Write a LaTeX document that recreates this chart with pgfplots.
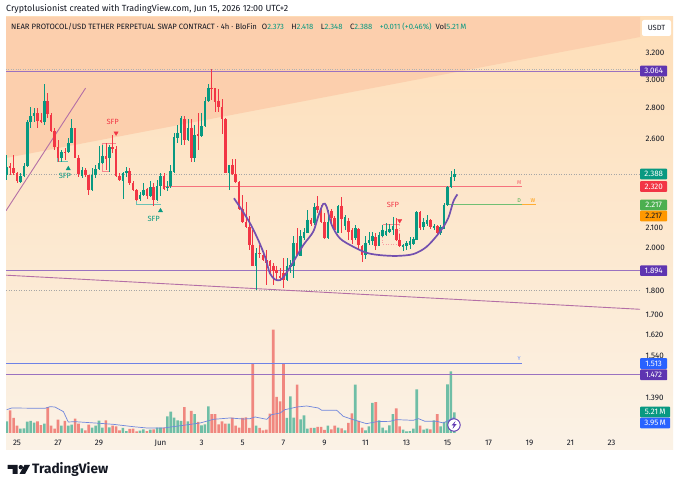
\documentclass[border=0pt]{standalone}
\usepackage{pgfplots}
\usepackage{pgfplotstable}
\usepackage{fontspec}
\setmainfont{Fira Sans}
\pgfplotsset{compat=1.18}
\definecolor{tvgreen}{HTML}{089981}
\definecolor{tvred}{HTML}{F23645}
\definecolor{volgreen}{HTML}{6FBEA6}
\definecolor{volred}{HTML}{F0877F}
\definecolor{wedge}{HTML}{FCCFAD}
\definecolor{lvl}{HTML}{9A72C0}
\definecolor{ink}{HTML}{131722}
\definecolor{curve}{HTML}{7350AF}
\definecolor{trend}{HTML}{B46FA6}
\definecolor{maline}{HTML}{6F86DC}
\definecolor{yline}{HTML}{6E82E6}
\definecolor{bdgpurple}{HTML}{5E35B1}
\definecolor{bdgblue}{HTML}{2962FF}
\definecolor{bdgorange}{HTML}{FF9800}
\definecolor{bdggreen}{HTML}{4CAF50}
\definecolor{bgtop}{HTML}{FEDEB8}
\definecolor{bgbot}{HTML}{FBF2E6}
\pgfplotstableread{
k h t b l
-3 2.502 2.432 2.384 2.355
1 2.393 2.378 2.342 2.340
2 2.452 2.436 2.378 2.374
3 2.722 2.711 2.436 2.432
4 2.811 2.748 2.711 2.668
5 2.800 2.766 2.751 2.711
8 2.970 2.848 2.711 2.689
13 2.532 2.518 2.485 2.461
15 2.605 2.573 2.518 2.516
16 2.726 2.668 2.573 2.573
19 2.428 2.413 2.378 2.364
22 2.423 2.384 2.296 2.290
23 2.442 2.417 2.384 2.364
24 2.553 2.455 2.417 2.413
25 2.563 2.496 2.452 2.448
27 2.563 2.549 2.481 2.403
31 2.403 2.393 2.351 2.248
32 2.428 2.407 2.393 2.374
36 2.285 2.272 2.248 2.236
37 2.336 2.299 2.272 2.263
39 2.346 2.314 2.266 2.259
41 2.355 2.318 2.241 2.236
42 2.393 2.378 2.318 2.266
44 2.346 2.314 2.308 2.290
45 2.442 2.407 2.318 2.308
46 2.640 2.611 2.403 2.397
47 2.689 2.640 2.605 2.573
48 2.748 2.733 2.636 2.563
50 2.726 2.672 2.594 2.584
52 2.689 2.626 2.481 2.461
54 2.766 2.682 2.620 2.615
55 2.880 2.853 2.682 2.678
56 2.970 2.943 2.853 2.846
62 2.442 2.442 2.393 2.296
70 1.998 1.974 1.915 1.807
79 1.950 1.912 1.851 1.844
80 1.942 1.919 1.909 1.881
81 2.055 2.022 1.915 1.859
83 2.088 2.055 1.961 1.958
84 2.097 2.075 2.047 2.039
85 2.191 2.140 2.072 2.069
87 2.227 2.205 2.122 2.114
91 2.191 2.126 2.047 2.042
94 2.218 2.213 2.072 2.072
96 2.165 2.151 2.108 2.088
99 2.114 2.097 2.047 2.039
102 2.058 2.022 1.966 1.945
103 2.075 2.039 2.022 2.014
104 2.075 2.058 2.030 2.014
106 2.075 2.063 2.009 2.006
107 2.114 2.088 2.058 2.052
108 2.122 2.080 2.063 2.055
109 2.119 2.094 2.075 2.072
110 2.151 2.105 2.088 2.063
113 2.019 2.013 2.003 1.982
114 2.030 2.022 2.006 1.990
115 2.052 2.030 2.014 1.993
116 2.052 2.042 2.019 2.014
117 2.182 2.177 2.039 2.035
119 2.148 2.126 2.102 2.088
120 2.165 2.136 2.119 2.108
122 2.119 2.108 2.095 2.085
124 2.114 2.102 2.069 2.063
125 2.227 2.218 2.094 2.090
126 2.318 2.314 2.218 2.213
127 2.408 2.374 2.314 2.308
128 2.418 2.388 2.373 2.348
}\upcandles
\pgfplotstableread{
k h t b l
-2 2.452 2.436 2.423 2.384
-1 2.502 2.423 2.393 2.384
0 2.403 2.393 2.346 2.340
6 2.800 2.766 2.715 2.668
7 2.766 2.722 2.711 2.700
9 2.908 2.848 2.762 2.733
10 2.766 2.755 2.651 2.647
11 2.668 2.651 2.549 2.532
12 2.594 2.549 2.485 2.461
14 2.543 2.518 2.512 2.471
17 2.668 2.668 2.485 2.481
18 2.502 2.485 2.388 2.374
20 2.423 2.413 2.382 2.374
21 2.384 2.384 2.299 2.272
26 2.573 2.496 2.479 2.413
28 2.626 2.549 2.537 2.512
29 2.553 2.537 2.378 2.370
30 2.393 2.378 2.355 2.346
33 2.423 2.407 2.340 2.327
34 2.351 2.340 2.299 2.290
35 2.303 2.299 2.245 2.236
38 2.308 2.303 2.266 2.248
40 2.340 2.314 2.241 2.213
43 2.393 2.378 2.303 2.296
49 2.748 2.726 2.594 2.563
51 2.726 2.672 2.481 2.461
53 2.766 2.632 2.620 2.532
57 3.077 2.943 2.938 2.857
58 2.938 2.938 2.846 2.777
59 2.930 2.850 2.811 2.777
60 2.862 2.811 2.726 2.632
61 2.733 2.726 2.397 2.393
63 2.477 2.442 2.390 2.384
64 2.477 2.390 2.342 2.336
65 2.346 2.342 2.195 2.191
66 2.272 2.195 2.126 2.122
67 2.231 2.126 2.102 2.097
68 2.157 2.102 2.014 1.990
69 2.088 2.014 1.915 1.912
71 2.014 1.974 1.969 1.950
72 1.969 1.966 1.942 1.934
73 1.990 1.942 1.927 1.829
74 1.942 1.937 1.915 1.881
75 1.927 1.915 1.889 1.829
76 1.912 1.893 1.881 1.844
77 1.904 1.866 1.859 1.844
78 1.950 1.881 1.851 1.814
82 2.097 2.022 1.966 1.958
86 2.148 2.140 2.117 2.105
88 2.263 2.209 2.191 2.174
89 2.218 2.200 2.126 2.122
90 2.174 2.126 2.047 2.042
92 2.195 2.182 2.148 2.105
93 2.160 2.148 2.088 2.080
95 2.259 2.213 2.143 2.072
97 2.148 2.131 2.075 2.039
98 2.097 2.088 2.039 2.019
100 2.097 2.092 2.014 1.990
101 2.014 2.006 1.966 1.930
105 2.072 2.052 2.009 1.990
111 2.148 2.094 2.039 2.030
112 2.067 2.035 2.006 2.003
118 2.182 2.177 2.097 2.088
121 2.143 2.136 2.102 2.092
123 2.114 2.105 2.069 2.063
}\downcandles
\pgfplotstableread{
k v
-3 2.94
1 1.09
2 1.17
3 2.85
4 3.02
5 2.60
8 2.35
13 1.85
15 1.85
16 2.10
19 1.17
22 1.34
23 1.85
24 3.10
25 1.34
27 1.43
31 1.26
32 0.50
36 0.59
37 0.92
39 0.84
41 1.34
42 1.34
44 4.20
45 5.37
46 3.86
47 3.19
48 3.02
50 2.94
52 4.78
54 1.93
55 2.18
56 6.71
62 2.35
70 1.85
79 3.78
80 9.23
81 3.86
83 3.44
84 4.45
85 1.09
87 1.26
91 1.85
94 1.34
96 0.67
99 12.17
102 0.67
103 1.68
104 7.55
106 3.19
107 1.34
108 0.67
109 1.93
110 4.78
113 0.84
114 0.42
115 0.50
116 1.09
117 10.99
119 0.84
120 1.09
122 3.19
124 1.68
125 2.77
126 12.25
127 15.52
128 5.21
}\upvol
\pgfplotstableread{
k v
-2 5.71
-1 3.78
0 1.85
6 2.94
7 2.01
9 6.54
10 1.85
11 1.09
12 3.36
14 3.02
17 3.61
18 2.35
20 0.67
21 2.10
26 3.19
28 1.85
29 1.68
30 0.67
33 1.01
34 1.09
35 0.42
38 0.50
40 0.92
43 1.34
49 6.54
51 5.54
53 2.77
57 4.78
58 4.78
59 2.18
60 2.94
61 2.35
63 3.86
64 1.85
65 1.34
66 3.78
67 3.94
68 1.26
69 17.45
71 1.26
72 0.67
73 0.84
74 4.87
75 26.01
76 9.06
77 7.97
78 17.45
82 12.17
86 1.26
88 1.51
89 1.51
90 0.76
92 0.92
93 1.85
95 1.17
97 2.52
98 4.95
100 3.02
101 1.34
105 7.80
111 6.21
112 1.68
118 1.85
121 0.92
123 4.78
}\downvol
\pgfplotstableread{
k v
-3.02 5.87
-1.56 6.29
8.2 6.21
9.66 6.63
11.1 6.54
13.6 5.37
15 2.77
17 2.85
24.3 2.43
28.2 2.18
34 1.59
38 1.26
42.8 1.26
48.7 1.93
53.6 2.52
57.5 3.44
62.3 3.78
66.2 3.52
68.2 3.61
69.7 4.03
73.1 3.44
74.5 4.61
77 5.03
78.4 5.87
81.9 6.54
84.8 6.80
88.2 6.29
89.2 5.70
93.6 5.70
95.5 4.20
98.4 3.36
102.3 2.35
105.3 2.85
109.2 2.94
111 3.36
116 3.19
117.5 3.61
119.4 2.94
122.8 2.94
124.8 2.52
128 3.95
}\volma
\pgfplotstableread{
k v
63.5 2.253
65.8 2.190
68.2 2.121
70.6 2.037
72.6 1.956
74.0 1.880
75.5 1.852
77.0 1.849
78.4 1.871
80.9 1.933
83.8 2.012
86.7 2.078
88.1 2.153
89.6 2.222
90.6 2.208
92.1 2.113
94.5 2.045
98.4 2.004
102.3 1.975
106.2 1.964
111.1 1.960
116.0 1.969
119.9 2.004
123.8 2.078
126.2 2.147
127.7 2.235
128.9 2.274
}\cupcurve
\newcommand{\badge}[5][white]{\node[fill=#3,text=#1,font=\fontsize{8}{9}\selectfont,inner sep=0pt,minimum width=#5,minimum height=10.6pt,anchor=west,rounded corners=0.8pt] at (640,#2) {#4};}
\begin{document}
\begin{tikzpicture}[x=1pt,y=1pt]
\path[use as bounding box,fill=white] (0,0) rectangle (680,489);
\shade[top color=bgtop,bottom color=bgbot] (6,39) rectangle (673,472);
% volume pane
\begin{axis}[name=vol,at={(6pt,56pt)},anchor=south west,scale only axis,width=634pt,height=416pt,
  xmin=-3.219,xmax=182.34,ymin=0,ymax=104.7,hide axis,clip=true]
\addplot[ybar,bar shift=0pt,bar width=2.6pt,fill=volgreen,draw=none] table[x=k,y=v] {\upvol};
\addplot[ybar,bar shift=0pt,bar width=2.6pt,fill=volred,draw=none] table[x=k,y=v] {\downvol};
\addplot[maline,line width=0.7pt] table[x=k,y=v] {\volma};
\end{axis}
% price pane
\begin{axis}[name=price,at={(6pt,56pt)},anchor=south west,scale only axis,width=634pt,height=416pt,
  ymode=log,xmin=-3.219,xmax=182.34,ymin=1.2778,ymax=3.491,clip mode=individual,
  axis line style={draw=none},major tick length=0pt,minor tick length=0pt,tick style={draw=none},
  yminorticks=false,
  ytick={3.2,3.0,2.8,2.6,2.1,2.0,1.8,1.7,1.62,1.54,1.39},
  yticklabels={3.200,3.000,2.800,2.600,2.100,2.000,1.800,1.700,1.620,1.540,1.390},
  yticklabel pos=right,
  yticklabel style={font=\fontsize{8}{9}\selectfont,text=ink,anchor=west,xshift=2pt},
  xtick={0,12,24,42,54,66,78,90,102,114,126,138,150,162,174},
  xticklabels={25,27,29,Jun,3,5,7,9,11,13,15,17,19,21,23},
  xticklabel style={font=\fontsize{8}{9}\selectfont,text=ink,yshift=-3.5pt},
]
\addplot[fill=wedge,draw=none] coordinates {(-3.219,2.483) (182.34,3.326) (182.34,3.491) (-3.219,3.491)} -- cycle;
% levels
\addplot[gray!60,dotted,line width=0.4pt] coordinates {(-3.219,3.077) (182.34,3.077)};
\addplot[gray!70,dotted,line width=0.5pt] coordinates {(-3.219,2.388) (182.34,2.388)};
\addplot[gray!70,dotted,line width=0.5pt] coordinates {(-3.219,1.805) (182.34,1.805)};
\addplot[lvl,line width=0.8pt] coordinates {(-3.219,3.064) (182.34,3.064)};
\addplot[lvl,line width=0.8pt] coordinates {(-3.219,1.894) (182.34,1.894)};
\addplot[lvl,line width=0.8pt] coordinates {(-3.219,1.472) (182.34,1.472)};
\addplot[trend,line width=0.9pt] coordinates {(-3.219,1.871) (182.34,1.723)};
\addplot[trend,line width=0.9pt] coordinates {(-3.219,2.186) (20.08,2.94)};
\addplot[yline,line width=0.8pt] coordinates {(-3.219,1.513) (147.8,1.513)};
\addplot[tvred!70,line width=0.8pt] coordinates {(43.3,2.320) (147.8,2.320)};
\addplot[bdgorange!80,line width=0.9pt] coordinates {(125.8,2.217) (151.9,2.217)};
\addplot[bdggreen!80,line width=0.9pt] coordinates {(125.8,2.217) (147.8,2.217)};
% SFP brackets
\addplot[tvgreen!60,line width=0.5pt] coordinates {(11.8,2.548) (11.8,2.461) (15,2.461)};
\addplot[tvgreen!60,line width=0.5pt] coordinates {(35,2.24) (35,2.222) (42,2.222)};
\addplot[tvgreen!50,dotted,line width=0.5pt] coordinates {(41,2.355) (41,2.222)};
\addplot[tvred!60,line width=0.5pt] coordinates {(27,2.406) (25,2.406) (25,2.573) (29,2.573)};
\addplot[tvred!60,line width=0.5pt] coordinates {(107,2.114) (112,2.114)};
\addplot[tvred!50,dotted,line width=0.5pt] coordinates {(107,2.114) (107,2.017) (112,2.017) (112,2.114)};
% candles
\addplot[draw=none,mark=none,error bars/.cd,y dir=both,y explicit,error mark=none,error bar style={line width=0.6pt,tvgreen}]
  table[x=k,y=t,y error plus expr=\thisrow{h}-\thisrow{t},y error minus expr=\thisrow{t}-\thisrow{l}] {\upcandles};
\addplot[draw=none,mark=none,error bars/.cd,y dir=both,y explicit,error mark=none,error bar style={line width=0.6pt,tvred}]
  table[x=k,y=t,y error plus expr=\thisrow{h}-\thisrow{t},y error minus expr=\thisrow{t}-\thisrow{l}] {\downcandles};
\addplot[draw=none,mark=none,error bars/.cd,y dir=minus,y explicit,error mark=none,error bar style={line width=2.6pt,tvgreen}]
  table[x=k,y=t,y error minus expr=\thisrow{t}-\thisrow{b}] {\upcandles};
\addplot[draw=none,mark=none,error bars/.cd,y dir=minus,y explicit,error mark=none,error bar style={line width=2.6pt,tvred}]
  table[x=k,y=t,y error minus expr=\thisrow{t}-\thisrow{b}] {\downcandles};
% cup curve
\addplot[curve,line width=1.7pt,smooth,tension=0.5] table[x=k,y=v] {\cupcurve};
% SFP markers
\addplot[only marks,mark=triangle*,mark size=2.4pt,tvgreen,mark options={fill=tvgreen,draw=tvgreen}] coordinates {(15,2.420) (42,2.186)};
\addplot[only marks,mark=triangle*,mark size=2.4pt,tvred,mark options={rotate=180,fill=tvred,draw=tvred}] coordinates {(29,2.637) (112,2.134)};
\node[text=tvred,font=\fontsize{7.5}{8}\selectfont] at (axis cs:28,2.711) {SFP};
\node[text=tvred,font=\fontsize{7.5}{8}\selectfont] at (axis cs:110,2.217) {SFP};
\node[text=tvgreen,font=\fontsize{7.5}{8}\selectfont] at (axis cs:14,2.379) {SFP};
\node[text=tvgreen,font=\fontsize{7.5}{8}\selectfont] at (axis cs:40,2.145) {SFP};
\node[text=tvred!80,font=\fontsize{5.5}{6}\selectfont] at (axis cs:147,2.338) {M};
\node[text=bdggreen,font=\fontsize{5.5}{6}\selectfont] at (axis cs:147,2.239) {D};
\node[text=bdgorange,font=\fontsize{5.5}{6}\selectfont] at (axis cs:151,2.239) {W};
\node[text=bdgblue!70,font=\fontsize{5.5}{6}\selectfont] at (axis cs:147,1.528) {Y};
\end{axis}
% badges, header, footer (y in picture points)
\badge{418}{bdgpurple}{3.064}{27pt}
\badge{315}{tvgreen}{2.388}{27pt}
\badge{302.5}{tvred}{2.320}{27pt}
\badge{284}{bdggreen}{2.217}{27pt}
\badge[ink]{273}{bdgorange}{2.217}{27pt}
\badge{218.3}{bdgpurple}{1.894}{27pt}
\badge{125.5}{bdgblue}{1.513}{27pt}
\badge{114.2}{bdgpurple}{1.472}{27pt}
\badge{77}{tvgreen}{5.21\,M}{30pt}
\badge{66}{bdgblue}{3.95\,M}{30pt}
\node[fill=white,rounded corners=2pt,minimum width=29pt,minimum height=16pt,inner sep=0pt,text=ink,font=\fontsize{7.5}{9}\selectfont] at (656.5,461) {USDT};
\node[anchor=west,inner sep=0pt,text=ink,font=\fontsize{8.9}{10}\selectfont] at (6,480) {Cryptolusionist created with TradingView.com, Jun 15, 2026 12:00 UTC+2};
\node[anchor=west,inner sep=0pt,text=ink,font=\fontsize{7.7}{9}\selectfont] at (11,462.5) {NEAR PROTOCOL/USD TETHER PERPETUAL SWAP CONTRACT · 4h · BloFin\hspace{5pt}O\textcolor{tvgreen}{2.373}\hspace{7.5pt}H\textcolor{tvgreen}{2.418}\hspace{7.5pt}L\textcolor{tvgreen}{2.348}\hspace{7.5pt}C\textcolor{tvgreen}{2.388}\hspace{7.5pt}\textcolor{tvgreen}{+0.011 (+0.46\%)}\hspace{4pt}Vol\textcolor{tvgreen}{5.21\,M}};
% lightning icon
\fill[white,draw=bdgpurple,line width=0.9pt] (454,64) circle (6.2);
\fill[bdgpurple] (455.5,68) -- (451.5,63.5) -- (453.8,63.5) -- (452.5,60) -- (456.5,64.8) -- (454.2,64.8) -- cycle;
% logo
\fill[ink] (7.5,24) -- (17.5,24) -- (17.5,15) -- (12.5,15) -- (12.5,20) -- (7.5,20) -- cycle;
\fill[ink] (20.8,21.8) circle (2.2);
\fill[ink] (24.5,24) -- (30,24) -- (25,15) -- (19.5,15) -- cycle;
\node[anchor=west,inner sep=0pt,text=ink,font=\bfseries\fontsize{13.6}{16}\selectfont] at (32,19.3) {TradingView};
\end{tikzpicture}
\end{document}
